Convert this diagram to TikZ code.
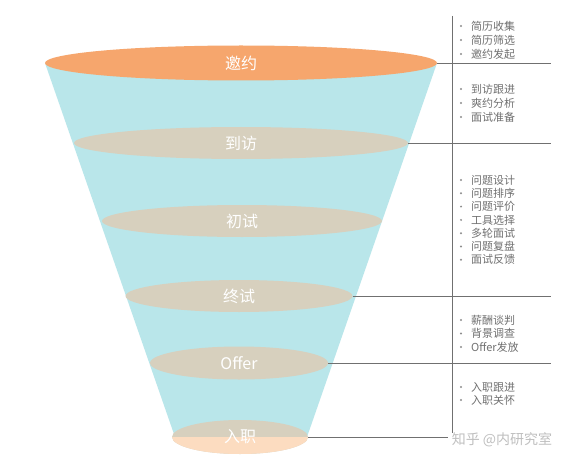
\documentclass[tikz,border=0pt]{standalone}
\usepackage{fontspec}
\setmainfont{Noto Sans CJK SC}
\usetikzlibrary{shapes.geometric}
\definecolor{funnelc}{HTML}{B9E6EA}
\definecolor{tanc}{HTML}{D7D0BE}
\definecolor{orangec}{HTML}{F6A66D}
\definecolor{peachc}{HTML}{FCDCC0}
\definecolor{linec}{HTML}{707070}
\definecolor{textc}{HTML}{707070}
\begin{document}
\begin{tikzpicture}[x=1pt,y=-1pt,
  stage/.style={ellipse, inner sep=0pt, fill=tanc, text=white,
    font=\fontsize{16}{18}\selectfont},
  leader/.style={draw=linec, line width=0.7pt},
  itemtext/.style={anchor=west, inner sep=0pt, text=textc,
    font=\fontsize{11}{13}\selectfont},
  bulletdot/.style={circle, fill=textc!80, inner sep=0pt, minimum size=2.2pt}
]
\useasboundingbox (0,0) rectangle (569,465);
\fill[white] (0,0) rectangle (569,465);

% funnel body
\fill[funnelc] (45,63) -- (437,63) -- (307,437) -- (175,437) -- cycle;

% stages
\node[stage, fill=orangec, minimum width=392pt, minimum height=35pt] (yaoyue) at (241,63) {邀约};
\node[stage, minimum width=334pt, minimum height=32pt] (daofang) at (241,143) {到访};
\node[stage, minimum width=280pt, minimum height=32pt] (chushi) at (242,221) {初试};
\node[stage, minimum width=227pt, minimum height=32pt] (zhongshi) at (239,296) {终试};
\node[stage, minimum width=178pt, minimum height=33pt] (offer) at (239,363) {Offer};
\node[stage, minimum width=136pt, minimum height=34pt,
  path picture={\fill[peachc] (path picture bounding box.west) rectangle (path picture bounding box.south east);}] (ruzhi) at (240,437) {入职};

% right-side guide lines
\coordinate (e1) at (551,63);
\coordinate (e2) at (551,143);
\coordinate (e3) at (551,296);
\coordinate (e4) at (551,363);
\coordinate (e5) at (448,437);
\coordinate (vtop) at (452,16);
\coordinate (vbot) at (452,433);
\draw[leader] (vtop) -- (vbot);
\draw[leader] (yaoyue.east) -- (e1);
\draw[leader] (daofang.east) -- (e2);
\draw[leader] (zhongshi.east) -- (e3);
\draw[leader] (offer.east) -- (e4);
\draw[leader] (ruzhi.east) -- (e5);

% item lists
\foreach \t/\y [count=\i] in {简历收集/26, 简历筛选/40, 邀约发起/54,
  到访跟进/89, 爽约分析/103, 面试准备/117,
  问题设计/180, 问题排序/193.3, 问题评价/206.6, 工具选择/219.9, 多轮面试/233.2, 问题复盘/246.5, 面试反馈/259.8,
  薪酬谈判/320, 背景调查/333.5, Offer发放/347,
  入职跟进/387, 入职关怀/400}{
  \node[bulletdot] (b\i) at (461,\y) {};
  \node[itemtext] (t\i) at (471,\y) {\t};
}

% watermark
\node[text=gray!50, font=\fontsize{14}{16}\selectfont, inner sep=0pt] (wm) at (502,440) {知乎 @内研究室};
\end{tikzpicture}
\end{document}
